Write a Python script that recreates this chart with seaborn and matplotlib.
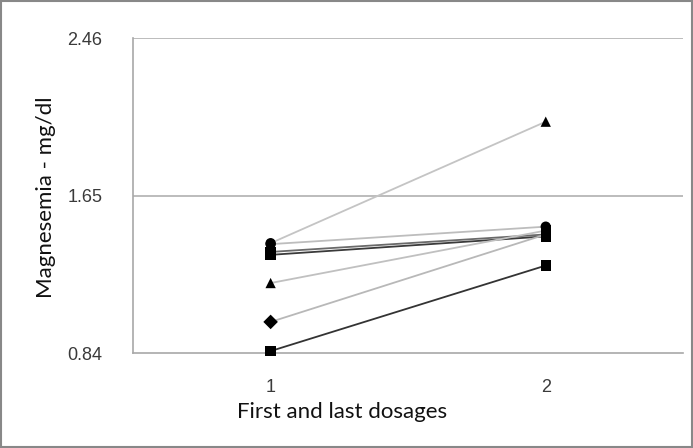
import numpy as np
import matplotlib
matplotlib.use("Agg")
import matplotlib.pyplot as plt
import seaborn as sns
import pandas as pd

# data
doses = [1, 2]
first_dose = [1.405, 1.40, 1.36, 1.345, 1.20, 1.00, 0.85]
last_dose = [2.03, 1.49, 1.45, 1.44, 1.47, 1.45, 1.29]
first_marker = ["o", "o", "s", "s", "^", "D", "s"]
last_marker = ["^", "o", "s", "s", "s", "s", "s"]
line_colors = ["#c4c4c4", "#bdbdbd", "#6a6a6a", "#3a3a3a", "#c0c0c0", "#b8b8b8", "#333333"]
y_ticks = [0.84, 1.65, 2.46]

rows = []
for i in range(len(first_dose)):
    rows.append({"subject": i, "dose": doses[0], "value": first_dose[i], "marker": first_marker[i]})
    rows.append({"subject": i, "dose": doses[1], "value": last_dose[i], "marker": last_marker[i]})
df = pd.DataFrame(rows)

sns.set_style("white")
fig = plt.figure(figsize=(6.93, 4.48), dpi=100)
ax = fig.add_axes([0.192, 0.212, 0.794, 0.703])

# horizontal gridlines
for yv in y_ticks[1:]:
    ax.axhline(yv, color="#b0b0b0", lw=1.2, zorder=0)

sns.lineplot(data=df, x="dose", y="value", hue="subject", palette=line_colors,
             legend=False, lw=1.3, ax=ax, zorder=2)
marker_map = {"o": "o", "s": "s", "^": "^", "D": "D"}
sns.scatterplot(data=df, x="dose", y="value", style="marker", markers=marker_map,
                color="black", s=55, edgecolor="black", linewidth=0, legend=False,
                ax=ax, zorder=3, clip_on=False)

ax.set_xlim(0.5, 2.5)
ax.set_ylim(y_ticks[0], y_ticks[-1])
ax.set_xticks(doses)
ax.set_xticklabels(["1", "2"])
ax.set_xticks([0.5, 1.5, 2.5], minor=True)
ax.set_yticks(y_ticks)
ax.set_yticklabels([f"{v:.2f}" for v in y_ticks])
ax.tick_params(axis="x", which="major", length=0, pad=19, labelsize=13,
               labelcolor="#3a3a3a")
ax.tick_params(axis="x", which="minor", length=6, color="#999999", direction="out")
ax.tick_params(axis="y", length=5, color="#999999", direction="out", pad=17,
               labelsize=13, labelcolor="#3a3a3a")
for lbl in ax.get_xticklabels() + ax.get_yticklabels():
    lbl.set_family(["Liberation Sans", "DejaVu Sans"])

for side in ["top", "right"]:
    ax.spines[side].set_visible(False)
for side in ["left", "bottom"]:
    ax.spines[side].set_color("#a8a8a8")
    ax.spines[side].set_linewidth(1.2)

ax.set_xlabel("First and last dosages", fontsize=16, family=["Lato", "DejaVu Sans"],
              color="#111111")
ax.xaxis.set_label_coords(0.38, -0.155)
ax.set_ylabel("Magnesemia - mg/dl", fontsize=16, family=["Lato", "DejaVu Sans"],
              color="#111111")
ax.yaxis.set_label_coords(-0.14, 0.495)

# outer frame
fig.patches.append(plt.Rectangle((0.002, 0.002), 0.996, 0.996, transform=fig.transFigure,
                                 fill=False, edgecolor="#888888", lw=1.5))

fig.savefig("out.png", dpi=100)
